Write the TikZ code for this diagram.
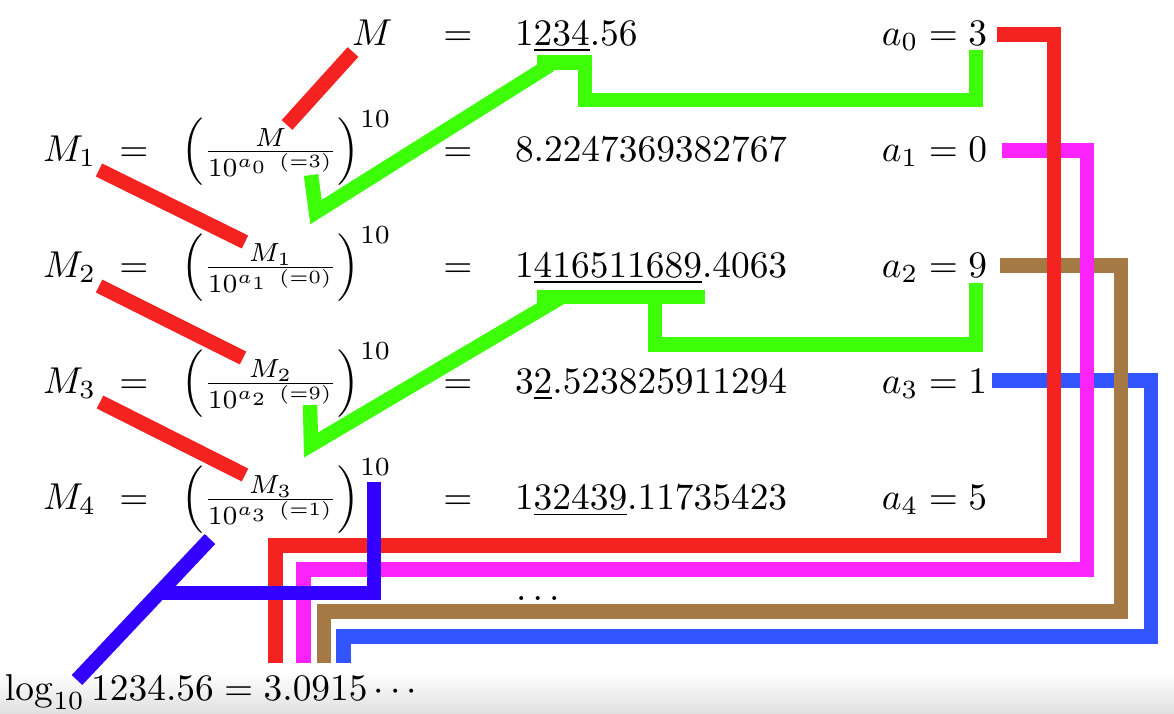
\documentclass[tikz,border=0pt]{standalone}
\usepackage{amsmath}
\definecolor{cred}{HTML}{F52222}
\definecolor{cgreen}{HTML}{3CFF08}
\definecolor{cmag}{HTML}{FA24FA}
\definecolor{cbrown}{HTML}{A57944}
\definecolor{cblue}{HTML}{3355FF}
\definecolor{cindigo}{HTML}{3300FF}
\newcommand\myfr[3]{\Big(\frac{#1}{10^{a_{#2}\ (=#3)}}\Big)^{10}}
\begin{document}
\begin{tikzpicture}[x=1pt,y=-1pt,
  lbl/.style={inner sep=0pt,outer sep=0pt,scale=3.74},
  lw/.style={lbl,anchor=base west},
  le/.style={lbl,anchor=base east},
  lc/.style={lbl,anchor=base},
  hl/.style={line width=14.5pt,line cap=butt,line join=miter}]
\useasboundingbox (0,0) rectangle (1174,713);
\shade[top color=white,bottom color=black!12,draw=none] (0,672) rectangle (1174,713);
% row 0
\node[lw] (m0) at (352,45) {$M$};
\node[lc] (e0) at (458,45) {$=$};
\node[lw] (n0) at (515,45) {$1\underline{234}.56$};
\node[le] (a0) at (987,45) {$a_0=3$};
% row 1
\node[lw] (m1) at (43,161) {$M_1$};
\node[lc] (q1) at (134,161) {$=$};
\node[lw] (f1) at (181,161) {$\myfr{M}{0}{3}$};
\node[lc] (e1) at (458,161) {$=$};
\node[lw] (n1) at (515,161) {$8.2247369382767$};
\node[le] (a1) at (987,161) {$a_1=0$};
% row 2
\node[lw] (m2) at (43,277) {$M_2$};
\node[lc] (q2) at (134,277) {$=$};
\node[lw] (f2) at (181,277) {$\myfr{M_1}{1}{0}$};
\node[lc] (e2) at (458,277) {$=$};
\node[lw] (n2) at (515,277) {$1\underline{416511689}.4063$};
\node[le] (a2) at (987,277) {$a_2=9$};
% row 3
\node[lw] (m3) at (43,393) {$M_3$};
\node[lc] (q3) at (134,393) {$=$};
\node[lw] (f3) at (181,393) {$\myfr{M_2}{2}{9}$};
\node[lc] (e3) at (458,393) {$=$};
\node[lw] (n3) at (515,393) {$3\underline{2}.523825911294$};
\node[le] (a3) at (987,393) {$a_3=1$};
% row 4
\node[lw] (m4) at (43,509) {$M_4$};
\node[lc] (q4) at (134,509) {$=$};
\node[lw] (f4) at (181,509) {$\myfr{M_3}{3}{1}$};
\node[lc] (e4) at (458,509) {$=$};
\node[lw] (n4) at (515,509) {$1\underline{32439}.11735423$};
\node[le] (a4) at (987,509) {$a_4=5$};
% dots and result
\node[lw] (dots) at (516,600) {$\ldots$};
\node[lw] (res) at (5,700) {$\log_{10}1234.56=3.0915\cdots$};
% colored carry lines
\draw[hl,cblue] (992,380.5)--(1151,380.5)--(1151,636.5)--(343.5,636.5)--(343.5,663);
\draw[hl,cbrown] (1000,265.5)--(1121,265.5)--(1121,611.5)--(324,611.5)--(324,663);
\draw[hl,cmag] (1002,150.5)--(1087,150.5)--(1087,569.5)--(303.5,569.5)--(303.5,663);
\draw[hl,cred] (997,34.5)--(1054,34.5)--(1054,545.5)--(275.5,545.5)--(275.5,663);
% red links
\draw[hl,cred] (287,125)--(353,52);
\draw[hl,cred] (99,170)--(245,242);
\draw[hl,cred] (99,286)--(243,358);
\draw[hl,cred] (100,402)--(245,475);
% green
\draw[hl,cgreen] (537,62.5)--(585,62.5)--(585,100)--(976,100)--(976,50);
\draw[hl,cgreen] (311,175)--(316,212)--(550,65);
\draw[hl,cgreen] (537,297)--(705,297);
\draw[hl,cgreen] (655,297)--(655,344.5)--(976,344.5)--(976,283);
\draw[hl,cgreen] (310,405)--(311,445)--(560,298);
% indigo
\draw[hl,cindigo] (374,482)--(374,593)--(160,593);
\draw[hl,cindigo] (210,539)--(77,680);
\end{tikzpicture}
\end{document}
